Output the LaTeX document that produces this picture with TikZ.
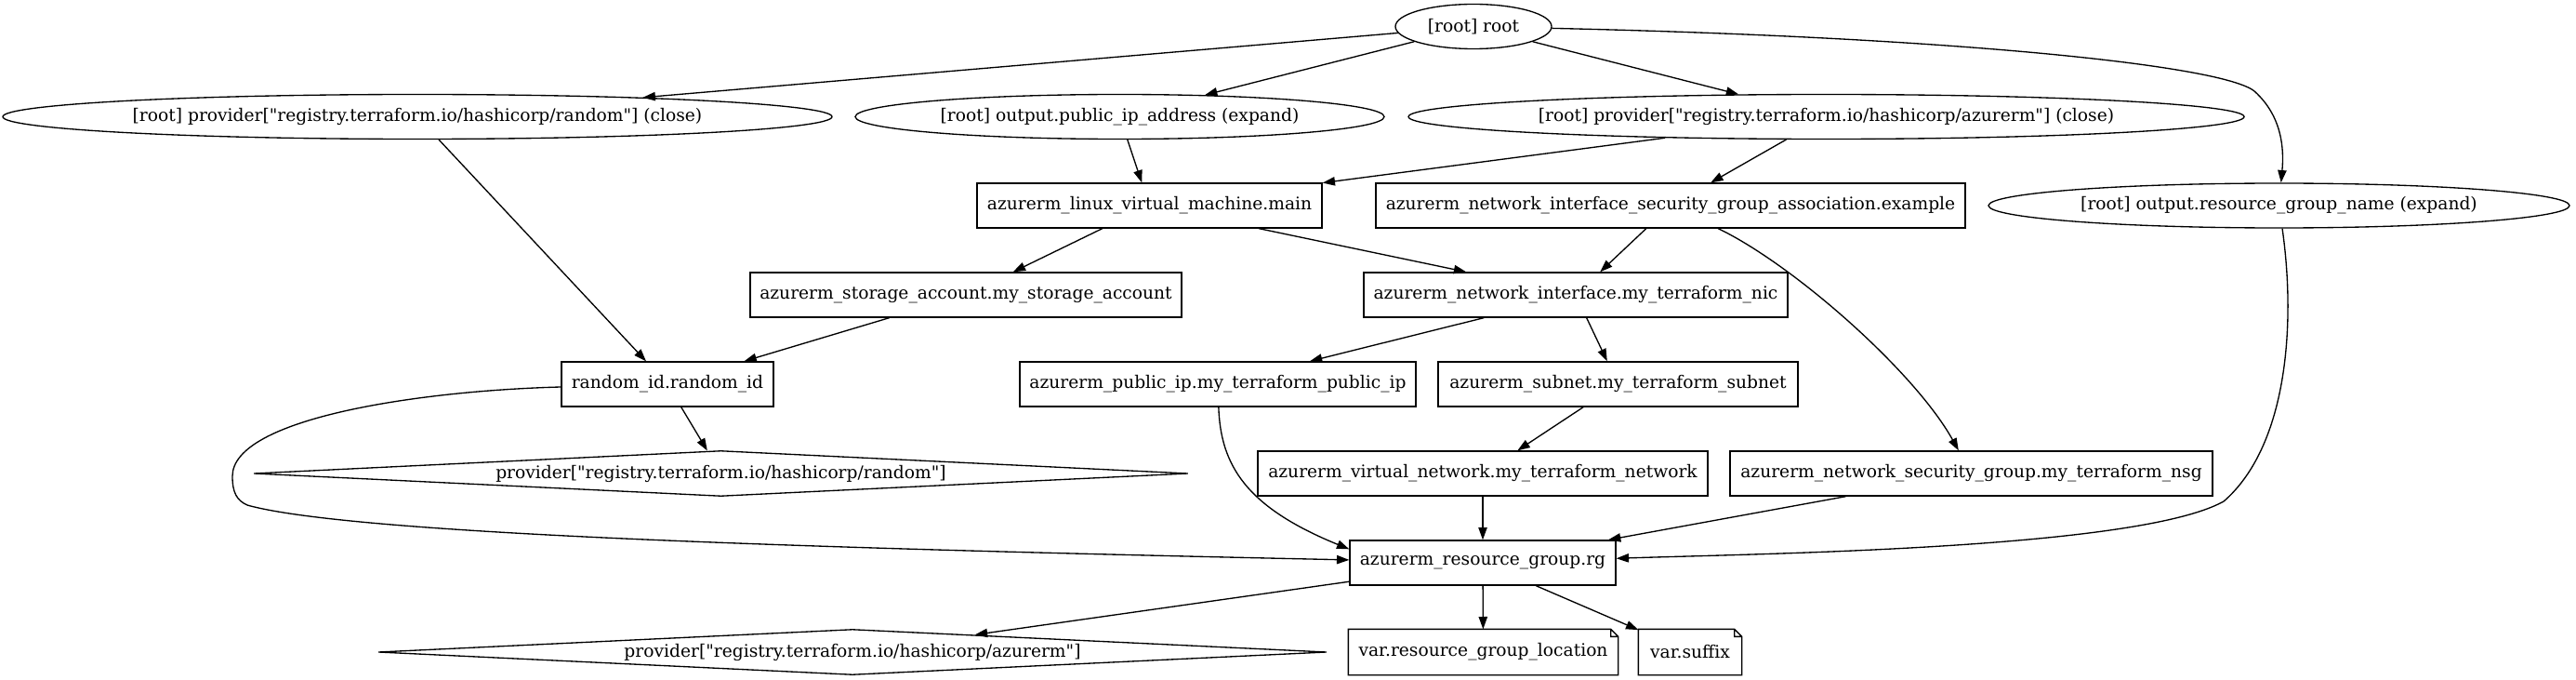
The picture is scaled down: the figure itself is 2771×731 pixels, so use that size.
\documentclass[tikz,border=0pt]{standalone}
\usepackage{fontspec}
\setmainfont[Ligatures=TeXOff]{DejaVu Serif}
\usetikzlibrary{shapes.geometric,arrows.meta}
\tikzset{
    res/.style={draw, rectangle, minimum height=36pt, inner sep=0pt},
    outp/.style={draw, ellipse, minimum height=36pt, inner sep=0pt},
    prov/.style={draw, diamond, aspect=20, minimum height=36.75pt, inner sep=0pt},
    varf/.style={rectangle, minimum height=36pt, inner sep=0pt},
    dep/.style={-{Triangle[length=10pt,width=7pt]}},
}
\newcommand{\notebox}[1]{\draw (#1.north west) -- ([xshift=-6pt]#1.north east) -- ([yshift=-6pt]#1.north east) -- (#1.south east) -- (#1.south west) -- cycle ([xshift=-6pt]#1.north east) |- ([yshift=-6pt]#1.north east);}
\begin{document}
\begin{tikzpicture}[x=0.75pt, y=-0.75pt, line width=1pt, font=\fontsize{14pt}{17pt}\selectfont]
    \path[use as bounding box, fill=white] (0,0) rectangle (2771,731);
    \node[outp, minimum width=126pt] (root) at (1585,28.5) {[root] root};
    \node[outp, minimum width=669pt] (rclose) at (449,125.5) {[root] provider["registry.terraform.io/hashicorp/random"] (close)};
    \node[outp, minimum width=426.75pt] (pipout) at (1204.5,125.5) {[root] output.public\_ip\_address (expand)};
    \node[outp, minimum width=674.25pt] (aclose) at (1964.5,125.5) {[root] provider["registry.terraform.io/hashicorp/azurerm"] (close)};
    \node[res, minimum width=278.25pt] (vm) at (1236.5,221) {azurerm\_linux\_virtual\_machine.main};
    \node[res, minimum width=475.5pt] (nisga) at (1797,221) {azurerm\_network\_interface\_security\_group\_association.example};
    \node[outp, minimum width=468.75pt] (rgout) at (2451.5,221) {[root] output.resource\_group\_name (expand)};
    \node[res, minimum width=348pt] (sa) at (1039,317) {azurerm\_storage\_account.my\_storage\_account};
    \node[res, minimum width=342pt] (nic) at (1695,317) {azurerm\_network\_interface.my\_terraform\_nic};
    \node[res, minimum width=171pt] (rid) at (718,413) {random\_id.random\_id};
    \node[res, minimum width=319.5pt] (pip) at (1310,413) {azurerm\_public\_ip.my\_terraform\_public\_ip};
    \node[res, minimum width=290.25pt] (subnet) at (1740.5,413) {azurerm\_subnet.my\_terraform\_subnet};
    \node[prov, minimum width=753.75pt] (rprov) at (775.5,509) {provider["registry.terraform.io/hashicorp/random"]};
    \node[res, minimum width=363pt] (vnet) at (1595,509) {azurerm\_virtual\_network.my\_terraform\_network};
    \node[res, minimum width=389.25pt] (nsg) at (2120.5,509) {azurerm\_network\_security\_group.my\_terraform\_nsg};
    \node[res, minimum width=214.5pt] (rg) at (1595,605) {azurerm\_resource\_group.rg};
    \node[prov, minimum width=765pt] (aprov) at (917,701) {provider["registry.terraform.io/hashicorp/azurerm"]};
    \node[varf, minimum width=216.75pt] (loc) at (1595.5,701) {var.resource\_group\_location};
    \node[varf, minimum width=82.5pt] (suffix) at (1818,701) {var.suffix};
    \notebox{loc}
    \notebox{suffix}
    \draw[dep] (root) -- (rclose);
    \draw[dep] (root) -- (pipout);
    \draw[dep] (root) -- (aclose);
    \draw[dep] (root) .. controls (2100,40) and (2390,70) .. (2425,98) .. controls (2455,125) and (2457,160) .. (rgout);
    \draw[dep] (rclose) -- (rid);
    \draw[dep] (pipout) -- (vm);
    \draw[dep] (aclose) -- (vm);
    \draw[dep] (aclose) -- (nisga);
    \draw[dep] (vm) -- (sa);
    \draw[dep] (vm) -- (nic);
    \draw[dep] (nisga) -- (nic);
    \draw[dep] (nisga) .. controls (1930,285) and (2060,400) .. (nsg);
    \draw[dep] (rgout) .. controls (2470,350) and (2460,480) .. (2392,539) .. controls (2300,590) and (1900,595) .. (rg);
    \draw[dep] (sa) -- (rid);
    \draw[dep] (nic) -- (pip);
    \draw[dep] (nic) -- (subnet);
    \draw[dep] (rid) -- (rprov);
    \draw[dep] (rid) .. controls (450,420) and (250,450) .. (250,512) .. controls (250,530) and (255,538) .. (266,543) .. controls (380,575) and (900,590) .. (rg);
    \draw[dep] (pip) .. controls (1313,500) and (1340,545) .. ([yshift=-7.5pt]rg.north west);
    \draw[dep] (subnet) -- (vnet);
    \draw[dep] (vnet) -- (rg);
    \draw[dep] (nsg) -- (rg);
    \draw[dep] (rg) -- (aprov);
    \draw[dep] (rg) -- (loc);
    \draw[dep] (rg) -- (suffix);
\end{tikzpicture}
\end{document}
